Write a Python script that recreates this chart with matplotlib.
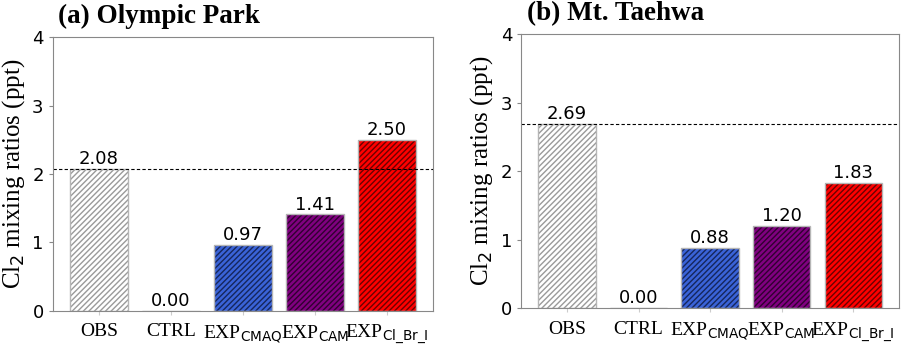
import matplotlib
matplotlib.use("Agg")
import matplotlib.pyplot as plt
import numpy as np

# data
labels = ["OBS", "CTRL", r"EXP$_{\mathrm{CMAQ}}$", r"EXP$_{\mathrm{CAM}}$", r"EXP$_{\mathrm{Cl\_Br\_I}}$"]
olympic_park = [2.08, 0.00, 0.97, 1.41, 2.50]
mt_taehwa = [2.69, 0.00, 0.88, 1.20, 1.83]
titles = ["(a) Olympic Park", "(b) Mt. Taehwa"]

face_colors = ["white", "white", "#3a63d8", "#800080", "#ff0000"]
hatch_colors = ["#9a9a9a", "#9a9a9a", "#15265c", "#300030", "#6a0000"]

plt.rcParams["hatch.linewidth"] = 1.0

fig = plt.figure(figsize=(9.08, 3.47), dpi=100)
axes = [fig.add_axes([0.058, 0.104, 0.419, 0.789]),
        fig.add_axes([0.574, 0.112, 0.416, 0.79])]

x = np.arange(len(labels))
for ax, vals, title in zip(axes, [olympic_park, mt_taehwa], titles):
    # hatch layer first, outline on top
    for i, v in enumerate(vals):
        ax.bar(x[i], v, width=0.8, color=face_colors[i], edgecolor=hatch_colors[i],
               hatch="//////", linewidth=0)
        ax.bar(x[i], v, width=0.8, color="none", edgecolor="#b5b5b5", linewidth=1.0)
        ax.text(x[i], v + 0.01, f"{v:.2f}", ha="center", va="bottom", fontsize=13,
                family="DejaVu Sans")
    ax.axhline(vals[0], color="black", linestyle="--", linewidth=0.8, dashes=(3, 2))
    ax.set_ylim(0, 4)
    ax.set_yticks([0, 1, 2, 3, 4])
    ax.set_xticks(x)
    ax.set_xticklabels(labels, family=["Liberation Serif"], fontsize=14)
    ax.tick_params(axis="y", labelsize=13, color="#888888", length=3)
    ax.tick_params(axis="x", color="#cccccc", length=3, pad=6)
    for s in ax.spines.values():
        s.set_color("#888888")
    ax.set_ylabel(r"Cl$_2$ mixing ratios (ppt)", family=["Liberation Serif"], fontsize=18)
    ax.text(0.015, 1.03, title, transform=ax.transAxes, family=["Liberation Serif"],
            fontsize=19.5, fontweight="bold", ha="left", va="bottom")

fig.savefig("out.png", dpi=100)
